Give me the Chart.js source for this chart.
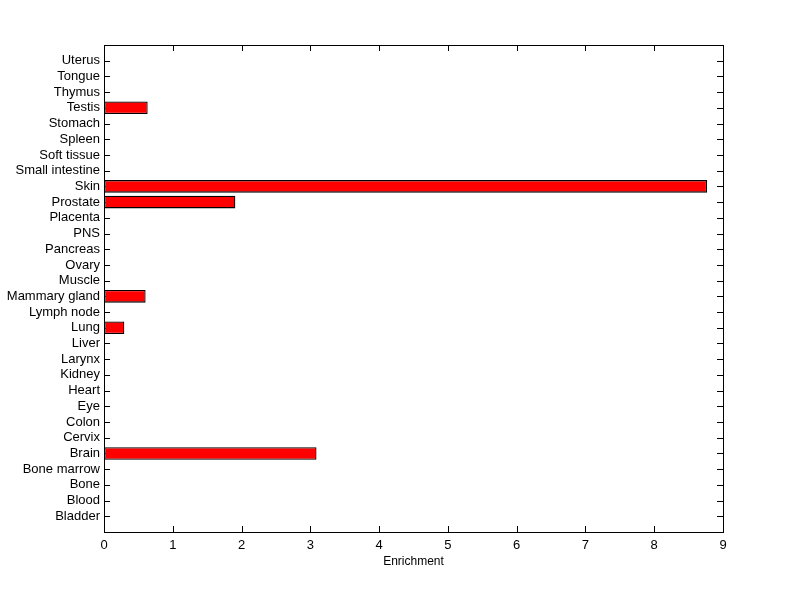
<!DOCTYPE html>
<html>
<head>
<meta charset="utf-8">
<script src="https://cdn.jsdelivr.net/npm/chart.js@4/dist/chart.umd.min.js"></script>
<style>
html,body{margin:0;padding:0;background:#fff;}
#wrap{width:800px;height:599px;}
</style>
</head>
<body>
<div id="wrap"><canvas id="c" width="800" height="599"></canvas></div>
<script>
const categories = ['Uterus','Tongue','Thymus','Testis','Stomach','Spleen','Soft tissue','Small intestine','Skin','Prostate','Placenta','PNS','Pancreas','Ovary','Muscle','Mammary gland','Lymph node','Lung','Liver','Larynx','Kidney','Heart','Eye','Colon','Cervix','Brain','Bone marrow','Bone','Blood','Bladder'];
const enrichment = [0,0,0,0.635,0,0,0,0,8.77,1.91,0,0,0,0,0,0.605,0,0.295,0,0,0,0,0,0,0,3.09,0,0,0,0];
const xTicks = [0,1,2,3,4,5,6,7,8,9];
const axisTitle = 'Enrichment';

// padded labels so the category axis leaves one slot above and below
const labels = [''].concat(categories, ['']);
const values = [null].concat(enrichment.map(v => v === 0 ? null : v), [null]);

const FONT = {family: 'Liberation Sans, Arial, sans-serif', size: 13};

const innerTicks = {
  id: 'innerTicks',
  beforeDatasetsDraw(chart) {
    const ctx = chart.ctx;
    const a = chart.chartArea;
    const xs = chart.scales.x, ys = chart.scales.y;
    const L = 6;
    ctx.save();
    ctx.strokeStyle = '#000';
    ctx.lineWidth = 1;
    ctx.beginPath();
    xs.ticks.forEach((t, i) => {
      const px = Math.round(xs.getPixelForTick(i)) + 0.5;
      ctx.moveTo(px, a.bottom); ctx.lineTo(px, a.bottom - L);
      ctx.moveTo(px, a.top); ctx.lineTo(px, a.top + L);
    });
    ys.ticks.forEach((t, i) => {
      if (i === 0 || i === ys.ticks.length - 1) return;
      const py = Math.round(ys.getPixelForTick(i)) + 0.5;
      ctx.moveTo(a.left, py); ctx.lineTo(a.left + L, py);
      ctx.moveTo(a.right, py); ctx.lineTo(a.right - L, py);
    });
    ctx.stroke();
    ctx.restore();
  },
  afterDraw(chart) {
    const ctx = chart.ctx;
    const a = chart.chartArea;
    ctx.save();
    ctx.strokeStyle = '#000';
    ctx.lineWidth = 1;
    ctx.strokeRect(Math.round(a.left) + 0.5, Math.round(a.top) + 0.5, Math.round(a.right - a.left), Math.round(a.bottom - a.top));
    ctx.restore();
  }
};

new Chart(document.getElementById('c'), {
  type: 'bar',
  data: {
    labels: labels,
    datasets: [{
      data: values,
      backgroundColor: '#ff0000',
      borderColor: '#000000',
      borderWidth: 1.3,
      borderSkipped: false,
      barPercentage: 0.8,
      categoryPercentage: 1.0
    }]
  },
  options: {
    indexAxis: 'y',
    responsive: false,
    animation: false,
    layout: {padding: {left: 0, right: 77, top: 45, bottom: 0}},
    plugins: {legend: {display: false}, tooltip: {enabled: false}},
    scales: {
      x: {
        type: 'linear',
        min: 0, max: 9,
        afterBuildTicks(scale) { scale.ticks = xTicks.map(v => ({value: v})); },
        afterFit(scale) { scale.height = 67; },
        grid: {display: false, drawTicks: false},
        border: {display: false},
        ticks: {color: '#000', font: FONT, padding: 6, maxRotation: 0},
        title: {display: true, text: axisTitle, color: '#000', font: {family: FONT.family, size: 12}, padding: {top: 0, bottom: 30}}
      },
      y: {
        type: 'category',
        offset: false,
        afterFit(scale) { scale.width = 104; },
        grid: {display: false, drawTicks: false},
        border: {display: false},
        ticks: {color: '#000', font: FONT, padding: 4, autoSkip: false}
      }
    }
  },
  plugins: [innerTicks]
});
</script>
</body>
</html>
